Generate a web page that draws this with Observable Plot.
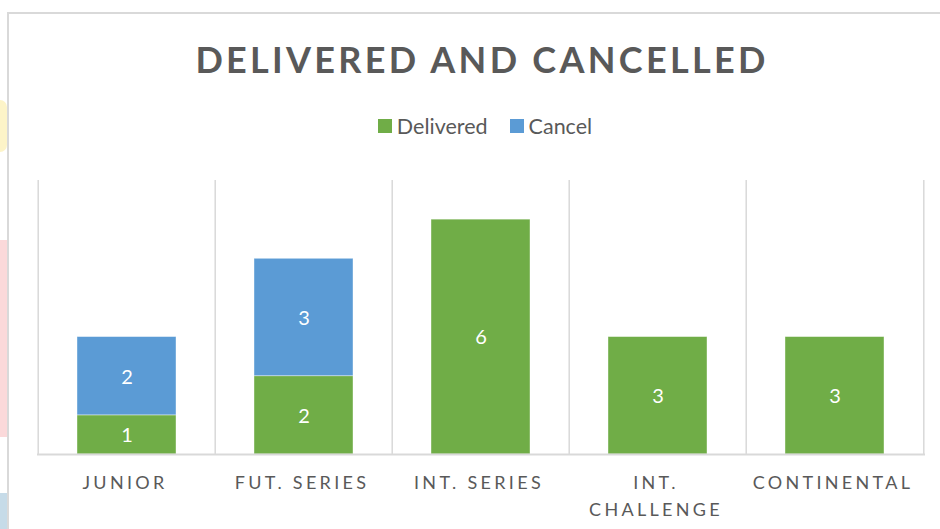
<!DOCTYPE html>
<html><head><meta charset="utf-8">
<script src="https://cdn.jsdelivr.net/npm/d3@7"></script>
<script src="https://cdn.jsdelivr.net/npm/@observablehq/plot@0.6"></script>
<style>
body{margin:0;background:#fff;}
#wrap{position:relative;width:940px;height:529px;overflow:hidden;font-family:Lato,sans-serif;background:#fff;}
#frame{position:absolute;left:7px;top:12px;width:1000px;height:1000px;border-left:2px solid #d9d9d9;border-top:2px solid #d9d9d9;}
.blob{position:absolute;left:0;width:7px;}
#header{position:relative;height:160px;}
#title{position:absolute;top:37px;left:22px;width:920px;text-align:center;font-weight:700;font-size:36px;letter-spacing:3.3px;color:#595959;white-space:nowrap;}
#legend{position:absolute;top:113px;left:30px;width:910px;display:flex;justify-content:center;align-items:center;font-size:21.5px;color:#595959;}
#legend .item{display:flex;align-items:center;margin:0 11px;}
#legend .sw{width:14px;height:14px;margin-right:5px;}
#chart{position:relative;}
#chart svg g[aria-label="x-axis tick label"] text{letter-spacing:3.3px;}
</style>
</head><body>
<div id="wrap">
  <div class="blob" style="top:100px;height:52px;background:#fdf4c8;border-radius:0 26px 26px 0;"></div>
  <div class="blob" style="top:240px;height:197px;background:#fbd9da;"></div>
  <div class="blob" style="top:493px;height:40px;background:#c6dbe8;"></div>
  <div id="frame"></div>
  <div id="header">
    <div id="title"></div>
    <div id="legend"></div>
  </div>
  <div id="chart"></div>
</div>
<script>
const titleText = "DELIVERED AND CANCELLED";
const categories = ["JUNIOR", "FUT. SERIES", "INT. SERIES", "INT. CHALLENGE", "CONTINENTAL"];
const tickLabels = ["JUNIOR", "FUT. SERIES", "INT. SERIES", "INT.\nCHALLENGE", "CONTINENTAL"];
const delivered = [1, 2, 6, 3, 3];
const cancel = [2, 3, 0, 0, 0];
const seriesNames = ["Delivered", "Cancel"];
const seriesColors = ["#70ad47", "#5b9bd5"];
const yMax = 7;

document.getElementById("title").textContent = titleText;
const legend = document.getElementById("legend");
seriesNames.forEach((s, i) => {
  const it = document.createElement("div");
  it.className = "item";
  const sw = document.createElement("div");
  sw.className = "sw";
  sw.style.background = seriesColors[i];
  const lb = document.createElement("span");
  lb.textContent = s;
  it.appendChild(sw); it.appendChild(lb);
  legend.appendChild(it);
});

const data = [];
categories.forEach((c, i) => {
  if (delivered[i] > 0) data.push({category: c, series: "Delivered", value: delivered[i]});
  if (cancel[i] > 0) data.push({category: c, series: "Cancel", value: cancel[i]});
});

const W = 940, mL = 37, mR = 15;
const step = (W - mL - mR) / categories.length;

const chart = Plot.plot({
  width: W,
  height: 369,
  marginTop: 20,
  marginBottom: 75,
  marginLeft: mL,
  marginRight: mR,
  style: {fontFamily: "Lato, sans-serif", background: "transparent"},
  x: {domain: categories, paddingInner: 0.44, paddingOuter: 0.22, label: null},
  y: {domain: [0, yMax], axis: null},
  color: {domain: seriesNames, range: seriesColors},
  marks: [
    Plot.ruleX(categories, {x: d => d, dx: -step / 2, stroke: "#d9d9d9", strokeWidth: 1.5}),
    Plot.ruleX(categories.slice(-1), {x: d => d, dx: step / 2, stroke: "#d9d9d9", strokeWidth: 1.5}),
    Plot.barY(data, Plot.stackY({x: "category", y: "value", z: "series", fill: "series", stroke: "#ffffff", strokeWidth: 0.8, strokeOpacity: 0.5})),
    Plot.text(data, Plot.stackY({x: "category", y: "value", z: "series", text: d => String(d.value), fill: "white", fontSize: 20, dy: 1})),
    Plot.ruleY([0], {stroke: "#d9d9d9", strokeWidth: 2}),
    Plot.axisX({
      tickSize: 0,
      tickPadding: 15,
      fontSize: 18,
      fill: "#595959",
      lineHeight: 1.5,
      dx: -2,
      tickFormat: d => tickLabels[categories.indexOf(d)]
    })
  ]
});
document.getElementById("chart").appendChild(chart);
</script>
</body></html>
